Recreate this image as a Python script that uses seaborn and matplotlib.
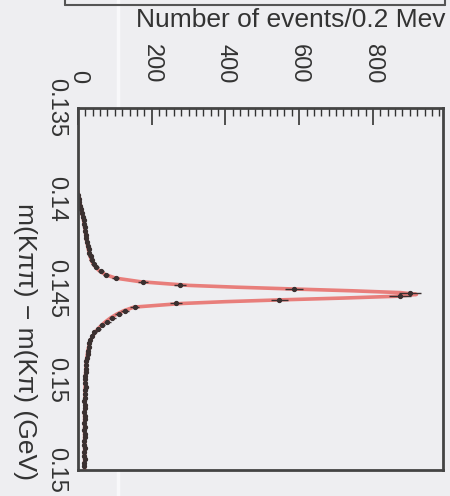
import numpy as np
import pandas as pd
import matplotlib
matplotlib.use("Agg")
import matplotlib.pyplot as plt
from matplotlib.lines import Line2D
import seaborn as sns

# ---- data (bin centres in GeV, counts per 0.2 MeV) ----
mass = [0.1398, 0.1400, 0.1402, 0.1404, 0.1406, 0.1408, 0.1410, 0.1412, 0.1414, 0.1416,
        0.1418, 0.1420, 0.1422, 0.1424, 0.1426, 0.1428, 0.1430, 0.1432, 0.1434, 0.1436,
        0.1438, 0.1440, 0.1442, 0.1444, 0.1446, 0.1448, 0.1450, 0.1452, 0.1454, 0.1456,
        0.1458, 0.1460, 0.1462, 0.1464, 0.1466, 0.1468, 0.1470, 0.1472, 0.1474, 0.1476,
        0.1478, 0.1480, 0.1482, 0.1484, 0.1486, 0.1488, 0.1490, 0.1492, 0.1494, 0.1496,
        0.1498, 0.1500, 0.1502, 0.1504, 0.1506, 0.1508, 0.1510, 0.1512, 0.1514, 0.1516,
        0.1518, 0.1520, 0.1522, 0.1524, 0.1526, 0.1528, 0.1530, 0.1532, 0.1534, 0.1536,
        0.1538, 0.1540, 0.1542, 0.1544, 0.1546, 0.1548]
counts = [1, 2, 4, 6, 9, 11, 13, 15, 17, 18,
          20, 21, 23, 25, 26, 29, 30, 34, 37, 43,
          50, 62, 76, 102, 176, 276, 586, 900, 873, 546,
          265, 154, 128, 110, 93, 80, 66, 55, 44, 38,
          33, 31, 29, 27, 26, 24, 23, 22, 22, 21,
          20, 20, 19, 21, 18, 19, 20, 17, 18, 19,
          17, 18, 19, 16, 18, 17, 19, 18, 16, 17,
          18, 17, 16, 18, 17, 16]

fit_mass = [0.1396, 0.1398, 0.1400, 0.1402, 0.1404, 0.1406, 0.1408, 0.1410, 0.1412, 0.1414,
            0.1416, 0.1418, 0.1420, 0.1422, 0.1424, 0.1426, 0.1428, 0.1430, 0.1432, 0.1434,
            0.1436, 0.1438, 0.1440, 0.1442, 0.1444, 0.1446, 0.1448, 0.1449, 0.1450, 0.1451,
            0.1452, 0.1453, 0.1454, 0.1455, 0.1456, 0.1457, 0.1458, 0.1460, 0.1462, 0.1464,
            0.1466, 0.1468, 0.1470, 0.1472, 0.1474, 0.1476, 0.1478, 0.1480, 0.1485, 0.1490,
            0.1495, 0.1500, 0.1510, 0.1520, 0.1530, 0.1540, 0.1550]
fit_counts = [0, 1, 2, 4, 7, 9, 11, 13, 15, 17,
              18, 20, 21, 22, 24, 26, 28, 30, 33, 36,
              41, 48, 58, 74, 102, 170, 300, 430, 585, 745,
              875, 918, 865, 720, 550, 400, 282, 152, 124, 104,
              88, 75, 64, 54, 46, 40, 35, 31, 26, 23,
              21, 20, 19, 18, 18, 18, 18]

count_ticks = [0, 200, 400, 600, 800]
mass_ticks = [0.135, 0.14, 0.145, 0.15, 0.155]
mass_ticklabels = ["0.135", "0.14", "0.145", "0.15", "0.15"]

df = pd.DataFrame({"mass": mass, "counts": counts})
df["err"] = np.sqrt(df["counts"])
fit_df = pd.DataFrame({"mass": fit_mass, "counts": fit_counts})

bg = "#eeeef1"
sns.set_theme(style="white")
plt.rcParams["font.family"] = ["Liberation Sans", "DejaVu Sans"]

W, H = 450, 496
fig = plt.figure(figsize=(W / 100, H / 100), dpi=100, facecolor=bg)
ax = fig.add_axes([78 / W, 1 - 470 / H, (443 - 78) / W, (470 - 108) / H])
ax.set_facecolor(bg)

# fit curve (red, rotated view: counts horizontal, mass vertical)
sns.lineplot(data=fit_df, x="counts", y="mass", orient="y", sort=False, ax=ax,
             color="#e86a66", lw=2.6, alpha=0.85, estimator=None)
# data points with error bars
ax.errorbar(df["counts"], df["mass"], xerr=df["err"], yerr=0.0001, fmt="o",
            ms=2.8, color="#3a3030", ecolor="#3a3030", elinewidth=1.0, capsize=0)

ax.set_xlim(0, 990)
ax.set_ylim(0.155, 0.135)

ax.xaxis.set_ticks_position("top")
ax.set_xticks(count_ticks)
ax.set_xticks(np.arange(0, 990, 20), minor=True)
ax.set_xticklabels([str(v) for v in count_ticks], rotation=-90, fontsize=17,
                   color="#333333")
ax.set_yticks(mass_ticks)
ax.set_yticks(np.arange(0.135, 0.1551, 0.0005), minor=True)
ax.set_yticklabels(mass_ticklabels, rotation=-90, fontsize=17, color="#333333",
                   va="center")
ax.tick_params(axis="x", which="major", direction="in", length=12, width=1.2,
               pad=18, colors="#333333")
ax.tick_params(axis="x", which="minor", direction="in", length=6, width=1.0,
               colors="#333333")
ax.tick_params(axis="y", which="major", direction="in", length=20, width=1.2,
               pad=8, colors="#333333")
ax.tick_params(axis="y", which="minor", direction="in", length=8, width=1.0,
               colors="#333333")
for lab in ax.get_xticklabels():
    lab.set_va("bottom")
for s in ax.spines.values():
    s.set_visible(True)
    s.set_color("#444444")
    s.set_linewidth(2.0)
ax.set_xlabel("")
ax.set_ylabel("")

fig.text(446 / W, 1 - 8 / H, "Number of events/0.2 Mev", ha="right", va="top",
         fontsize=19, color="#333333")
fig.text(25 / W, 1 - 203 / H, "m(Kππ) − m(Kπ) (GeV)", rotation=-90, ha="center",
         va="top", fontsize=19, color="#333333")

# frame of the box cut off at the top of the scan
fig.add_artist(Line2D([65 / W, 445 / W], [1 - 5 / H, 1 - 5 / H], color="#555555", lw=1.5))
fig.add_artist(Line2D([65 / W, 65 / W], [1 - 5 / H, 1.0], color="#555555", lw=1.5))
fig.add_artist(Line2D([445 / W, 445 / W], [1 - 5 / H, 1.0], color="#555555", lw=1.5))
# faint scan line
fig.add_artist(Line2D([118 / W, 118 / W], [0, 1], color="#f8f8fa", lw=2.5, zorder=0))

fig.savefig("out.png", dpi=100, facecolor=bg)
